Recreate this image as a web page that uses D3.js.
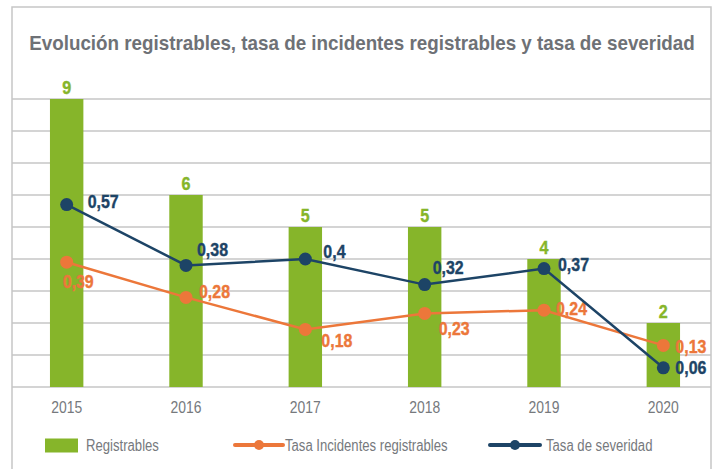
<!DOCTYPE html>
<html>
<head>
<meta charset="utf-8">
<script src="https://cdn.jsdelivr.net/npm/d3@7"></script>
<style>
  html, body { margin: 0; padding: 0; background: #fff; }
  svg { display: block; }
</style>
</head>
<body>
<svg id="chart"></svg>
<script>
// data
const years = ["2015", "2016", "2017", "2018", "2019", "2020"];
const registrables = [9, 6, 5, 5, 4, 2];
const tasaIncidentes = [0.39, 0.28, 0.18, 0.23, 0.24, 0.13];
const tasaSeveridad = [0.57, 0.38, 0.4, 0.32, 0.37, 0.06];
const legendLabels = ["Registrables", "Tasa Incidentes registrables", "Tasa de severidad"];
const title = "Evolución registrables, tasa de incidentes registrables y tasa de severidad";

// label nudges (layout only)
const sevOffsets = [[21, -3], [11, -16], [18, -8], [8, -17], [14, -4], [12, 0]];
const incOffsets = [[-4, 19], [13, -6], [16, 11], [14, 15], [12, -2], [12, 1]];

const W = 717, H = 469;
const green = "#86b52a", orange = "#ec773a", navy = "#1d4466";
const grid = "#c6c6c6", grayText = "#76797d";
const font = "'Liberation Sans', Arial, sans-serif";
const squeeze = 0.82; // fake a condensed face

const frame = { left: 12, right: 711, top: 7 };
const plotTop = 99, plotBottom = 387;

const svg = d3.select("#chart").attr("width", W).attr("height", H);

// text drawn at 0,0 inside a squeezed group
function narrowText(parent, x, y, str, size, weight, color, anchor, sx) {
  const t = parent.append("text")
    .attr("transform", `translate(${x},${y}) scale(${sx || squeeze},1)`)
    .attr("text-anchor", anchor || "start")
    .style("font-family", font)
    .style("font-weight", weight)
    .style("font-size", size + "px")
    .attr("fill", color)
    .text(str);
  return t;
}

// frame
svg.append("path")
  .attr("d", `M${frame.left},${H + 5}V${frame.top}H${frame.right}V${H + 5}`)
  .attr("fill", "none")
  .attr("stroke", grid)
  .attr("stroke-width", 1.5);

// title, squeezed to fit the width
const tcx = 29 + 666 / 2;
const titleText = narrowText(svg, tcx, 50, title, 21, "bold", "#6e7176", "middle", 1);
let tw = titleText.node().getComputedTextLength();
titleText.attr("transform", `translate(${tcx},50) scale(${(666 / tw).toFixed(4)},1)`);

// scales
const x = d3.scaleBand()
  .domain(years)
  .range([7, 723])
  .paddingInner(0.72)
  .paddingOuter(0.36);

const yBar = d3.scaleLinear().domain([0, 9]).range([plotBottom, plotTop]);
const yRate = d3.scaleLinear().domain([0, 0.9]).range([plotBottom, plotTop]);

// gridlines
svg.append("g")
  .selectAll("line")
  .data(d3.range(0, 10))
  .enter()
  .append("line")
  .attr("x1", frame.left)
  .attr("x2", frame.right)
  .attr("y1", d => yBar(d))
  .attr("y2", d => yBar(d))
  .attr("stroke", grid)
  .attr("stroke-width", 1.5);

// bars
svg.append("g")
  .selectAll("rect")
  .data(registrables)
  .enter()
  .append("rect")
  .attr("x", (d, i) => x(years[i]))
  .attr("y", d => yBar(d))
  .attr("width", x.bandwidth())
  .attr("height", d => plotBottom - yBar(d))
  .attr("fill", green);

const barLabels = svg.append("g");
registrables.forEach((d, i) => {
  narrowText(barLabels, x(years[i]) + x.bandwidth() / 2, yBar(d) - 5, d, 19, "bold", green, "middle", 0.85)
    .attr("stroke", green).attr("stroke-width", 0.4);
});

// x axis labels
const xAxis = d3.axisBottom(x).tickSize(0).tickPadding(14);
const xg = svg.append("g")
  .attr("transform", `translate(0,${plotBottom})`)
  .call(xAxis);
xg.select(".domain").remove();
xg.selectAll("text")
  .attr("transform", `scale(${squeeze},1)`)
  .style("font-family", font)
  .style("font-size", "17px")
  .attr("fill", grayText);

// lines
const cx = i => x(years[i]) + x.bandwidth() / 2;

function drawSeries(values, color, offsets) {
  const line = d3.line()
    .x((d, i) => cx(i))
    .y(d => yRate(d));

  svg.append("path")
    .datum(values)
    .attr("d", line)
    .attr("fill", "none")
    .attr("stroke", color)
    .attr("stroke-width", 2.5);

  svg.append("g")
    .selectAll("circle")
    .data(values)
    .enter()
    .append("circle")
    .attr("cx", (d, i) => cx(i))
    .attr("cy", d => yRate(d))
    .attr("r", 6.5)
    .attr("fill", color);

  const lg = svg.append("g");
  values.forEach((d, i) => {
    narrowText(lg, cx(i) + offsets[i][0], yRate(d) + offsets[i][1], String(d).replace(".", ","),
      19, "bold", color, "start", 0.84)
      .attr("dy", "0.35em")
      .attr("stroke", color).attr("stroke-width", 0.4);
  });
}

drawSeries(tasaIncidentes, orange, incOffsets);
drawSeries(tasaSeveridad, navy, sevOffsets);

// legend
const legY = 445;
const leg = svg.append("g").attr("class", "legend");

leg.append("rect")
  .attr("x", 45).attr("y", legY - 6.5)
  .attr("width", 33).attr("height", 14)
  .attr("fill", green);

const lineKeys = [
  { x0: 235, x1: 283, color: orange },
  { x0: 490, x1: 540, color: navy }
];
lineKeys.forEach(k => {
  leg.append("line")
    .attr("x1", k.x0).attr("x2", k.x1)
    .attr("y1", legY).attr("y2", legY)
    .attr("stroke", k.color)
    .attr("stroke-width", 4)
    .attr("stroke-linecap", "round");
  leg.append("circle")
    .attr("cx", (k.x0 + k.x1) / 2).attr("cy", legY)
    .attr("r", 5).attr("fill", k.color);
});

const legTx = [86, 285, 546];
legendLabels.forEach((d, i) => {
  narrowText(leg, legTx[i], legY, d, 16, "normal", grayText, "start").attr("dy", "0.35em");
});
</script>
</body>
</html>
